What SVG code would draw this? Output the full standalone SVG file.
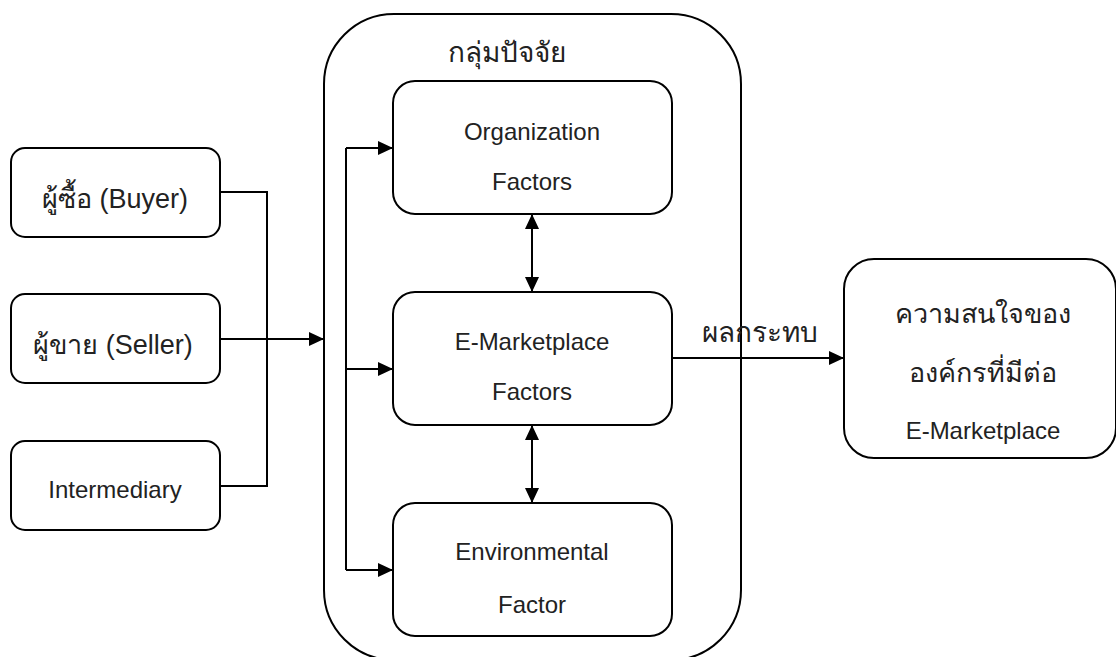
<svg xmlns="http://www.w3.org/2000/svg" width="1116" height="657" viewBox="0 0 1116 657">
<style>
.box{fill:#fff;stroke:#000;stroke-width:2}
.ln{fill:none;stroke:#000;stroke-width:2}
.t{font-family:"Liberation Sans","Noto Sans",sans-serif;fill:#222;text-anchor:middle}
.s{font-size:24px}
.l{font-size:27px}
.xl{font-size:28px}
</style>
<defs>
<marker id="ah" viewBox="0 0 15 14" refX="15" refY="7" markerWidth="15" markerHeight="14" markerUnits="userSpaceOnUse" orient="auto-start-reverse">
<path d="M0,0L15,7L0,14Z" fill="#000"/>
</marker>
</defs>
<rect width="1116" height="657" fill="#fff"/>
<g id="group">
<rect class="box" x="324" y="14" width="417" height="646" rx="70"/>
<text class="t xl" x="507" y="62">กลุ่มปัจจัย</text>
</g>
<g id="buyer">
<rect class="box" x="11" y="148" width="209" height="89" rx="14"/>
<text class="t l" x="115" y="208">ผู้ซื้อ (Buyer)</text>
</g>
<g id="seller">
<rect class="box" x="11" y="294" width="209" height="89" rx="14"/>
<text class="t l" x="113" y="354">ผู้ขาย (Seller)</text>
</g>
<g id="intermediary">
<rect class="box" x="11" y="441" width="209" height="89" rx="14"/>
<text class="t s" x="115" y="498">Intermediary</text>
</g>
<g id="org">
<rect class="box" x="393" y="81" width="279" height="133" rx="22"/>
<text class="t s" x="532" y="140">Organization</text>
<text class="t s" x="532" y="190">Factors</text>
</g>
<g id="emkt">
<rect class="box" x="393" y="292" width="279" height="133" rx="22"/>
<text class="t s" x="532" y="350">E-Marketplace</text>
<text class="t s" x="532" y="400">Factors</text>
</g>
<g id="env">
<rect class="box" x="393" y="503" width="279" height="133" rx="22"/>
<text class="t s" x="532" y="560">Environmental</text>
<text class="t s" x="532" y="613">Factor</text>
</g>
<g id="interest">
<rect class="box" x="844" y="259" width="272" height="199" rx="30"/>
<text class="t l" x="983" y="323">ความสนใจของ</text>
<text class="t l" x="983" y="382">องค์กรที่มีต่อ</text>
<text class="t s" x="983" y="439">E-Marketplace</text>
</g>
<g id="connectors">
<path class="ln" d="M220,192H267V486H220"/>
<path class="ln" d="M220,339H324" marker-end="url(#ah)"/>
<path class="ln" d="M346,148V570"/>
<path class="ln" d="M346,148H393" marker-end="url(#ah)"/>
<path class="ln" d="M346,369H393" marker-end="url(#ah)"/>
<path class="ln" d="M346,570H393" marker-end="url(#ah)"/>
<path class="ln" d="M532,214V292" marker-start="url(#ah)" marker-end="url(#ah)"/>
<path class="ln" d="M532,425V503" marker-start="url(#ah)" marker-end="url(#ah)"/>
<path class="ln" d="M672,358H844" marker-end="url(#ah)"/>
<text class="t xl" x="760" y="342">ผลกระทบ</text>
</g>
</svg>
